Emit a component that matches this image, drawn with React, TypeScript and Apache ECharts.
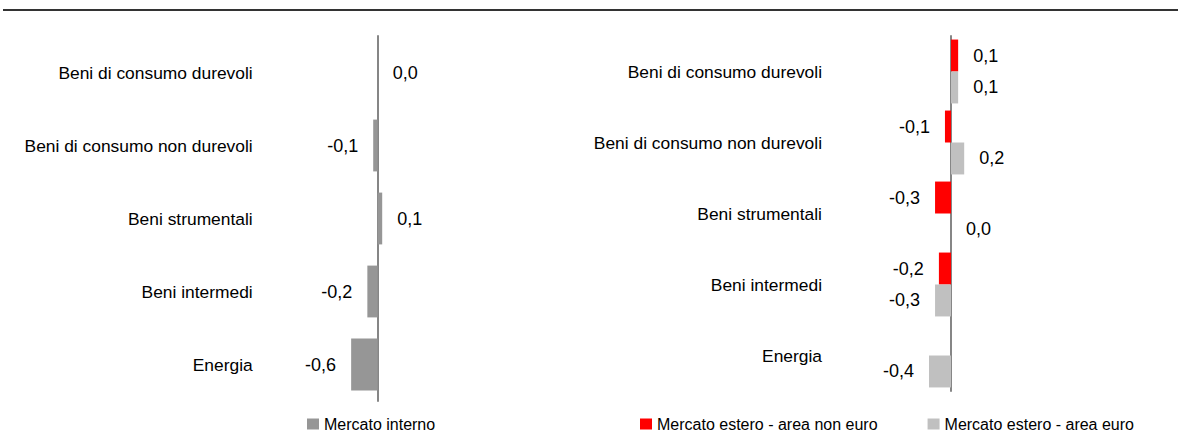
import React, { useEffect, useRef } from "react";
import * as echarts from "echarts";

const categories = [
  "Beni di consumo durevoli",
  "Beni di consumo non durevoli",
  "Beni strumentali",
  "Beni intermedi",
  "Energia",
];
const seriesNames = [
  "Mercato interno",
  "Mercato estero - area non euro",
  "Mercato estero - area euro",
];
const internoValues: (number | null)[] = [0.0, -0.1, 0.1, -0.23, -0.59];
const nonEuroValues: (number | null)[] = [0.13, -0.11, -0.29, -0.22, null];
const euroValues: (number | null)[] = [0.13, 0.24, 0.0, -0.29, -0.4];

const FONT = "'Liberation Sans', Arial, sans-serif";

const fmt = (v: number) => v.toFixed(1).replace(".", ",");

const toData = (arr: (number | null)[]) =>
  arr.map((v) =>
    v === null
      ? { value: null }
      : { value: v, label: { position: v < 0 ? "left" : "right" } }
  );

export default function App() {
  const ref = useRef<HTMLDivElement>(null);
  useEffect(() => {
    document.body.style.margin = "0";
    if (!ref.current) return;
    const chart = echarts.init(ref.current, undefined, { renderer: "svg" });
    const labelCfg = {
      show: true,
      formatter: (p: any) => fmt(p.value as number),
      fontSize: 18,
      fontFamily: FONT,
      color: "#000",
      distance: 15,
    };
    const yAxisBase = {
      type: "category" as const,
      data: categories,
      inverse: true,
      axisLine: { onZero: true, lineStyle: { color: "#868686", width: 2 } },
      axisTick: { show: false },
      splitLine: { show: false },
      axisLabel: { fontSize: 17.4, fontFamily: FONT, color: "#000" },
    };
    chart.setOption({
      animation: false,
      backgroundColor: "#fff",
      graphic: [
        {
          type: "line",
          shape: { x1: 3, y1: 10, x2: 1178, y2: 10 },
          style: { stroke: "#333", lineWidth: 2 },
        },
      ],
      grid: [
        { left: 332.7, width: 90, top: 36, height: 365, outerBoundsMode: "none", containLabel: false },
        { left: 896, width: 110, top: 36, height: 355, outerBoundsMode: "none", containLabel: false },
      ],
      xAxis: [
        { gridIndex: 0, type: "value", min: -1, max: 1, show: false },
        { gridIndex: 1, type: "value", min: -1, max: 1, show: false },
      ],
      yAxis: [
        { ...yAxisBase, gridIndex: 0, axisLabel: { ...yAxisBase.axisLabel, margin: 80 } },
        { ...yAxisBase, gridIndex: 1, axisLabel: { ...yAxisBase.axisLabel, margin: 74 } },
      ],
      legend: [
        {
          data: [seriesNames[0]],
          left: 307,
          top: 416,
          padding: 0,
          icon: "rect",
          itemWidth: 12,
          itemHeight: 11,
          textStyle: { fontSize: 16, fontFamily: FONT, color: "#000" },
        },
        {
          data: [seriesNames[1], seriesNames[2]],
          left: 640,
          top: 416,
          padding: 0,
          icon: "rect",
          itemWidth: 12,
          itemHeight: 11,
          itemGap: 50,
          textStyle: { fontSize: 16, fontFamily: FONT, color: "#000" },
        },
      ],
      series: [
        {
          name: seriesNames[0],
          type: "bar",
          xAxisIndex: 0,
          yAxisIndex: 0,
          data: toData(internoValues),
          itemStyle: { color: "#969696" },
          barCategoryGap: "29%",
          label: labelCfg,
        },
        {
          name: seriesNames[1],
          type: "bar",
          xAxisIndex: 1,
          yAxisIndex: 1,
          data: toData(nonEuroValues),
          itemStyle: { color: "#ff0000" },
          barGap: "0%",
          barCategoryGap: "10%",
          label: labelCfg,
        },
        {
          name: seriesNames[2],
          type: "bar",
          xAxisIndex: 1,
          yAxisIndex: 1,
          data: toData(euroValues),
          itemStyle: { color: "#c0c0c0" },
          barGap: "0%",
          barCategoryGap: "10%",
          label: labelCfg,
        },
      ],
    });
    return () => chart.dispose();
  }, []);
  return <div ref={ref} style={{ width: 1178, height: 441 }} />;
}
